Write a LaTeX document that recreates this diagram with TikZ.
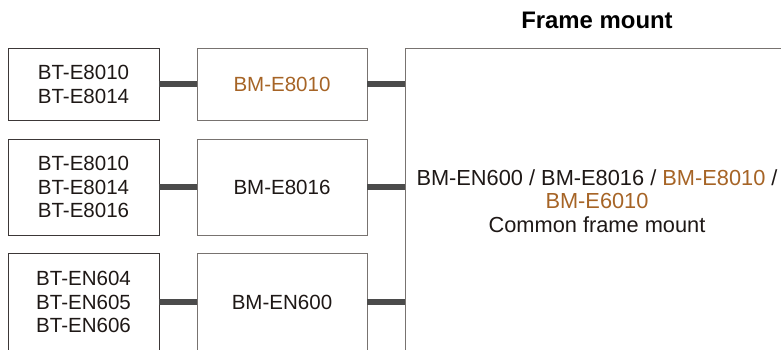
\documentclass[tikz,border=0pt]{standalone}
\usepackage{fontspec}
\setmainfont{Liberation Sans}
\usepackage{tikz}
\usetikzlibrary{positioning,calc}
\definecolor{inkblack}{RGB}{30,24,22}
\definecolor{bronze}{RGB}{166,100,38}
\definecolor{darkframe}{RGB}{60,55,55}
\definecolor{midframe}{RGB}{120,115,112}
\definecolor{barblack}{RGB}{75,75,75}

\begin{document}
\begin{tikzpicture}[x=0.025cm,y=-0.025cm,
  bat/.style={draw=darkframe,line width=0.6pt,minimum width=3.775cm,align=center,
              font=\fontsize{14.6}{17}\selectfont,text=inkblack,inner sep=0pt},
  mod/.style={draw=midframe,line width=0.6pt,minimum width=4.25cm,align=center,
              font=\fontsize{14.6}{17}\selectfont,text=inkblack,inner sep=0pt},
  bar/.style={draw=barblack,line width=4.8pt}]
  \useasboundingbox (0,0) rectangle (781,349);
  \clip (0,0) rectangle (781,349);
  \node[font=\fontsize{17}{20}\selectfont\bfseries,text=black] (title) at (597,20) {Frame mount};
  \node[draw=midframe,line width=0.6pt,minimum width=9.6cm,minimum height=7.65cm,
        align=center,font=\fontsize{15.5}{16.8}\selectfont,text=inkblack,inner sep=0pt] (fm) at (597,201)
       {BM-EN600 / BM-E8016 / \textcolor{bronze}{BM-E8010} /\\ \textcolor{bronze}{BM-E6010}\\ Common frame mount};
  \node[bat,minimum height=1.8cm] (b1) at (83.5,84) {BT-E8010\\BT-E8014};
  \node[mod,minimum height=1.8cm,text=bronze] (m1) at (282,84) {BM-E8010};
  \node[bat,minimum height=2.4cm] (b2) at (83.5,187) {BT-E8010\\BT-E8014\\BT-E8016};
  \node[mod,minimum height=2.4cm] (m2) at (282,187) {BM-E8016};
  \node[bat,minimum height=2.45cm] (b3) at (83.5,302) {BT-EN604\\BT-EN605\\BT-EN606};
  \node[mod,minimum height=2.45cm] (m3) at (282,302) {BM-EN600};
  \draw[bar] (b1) -- (m1); \draw[bar] (m1) -- (m1 -| fm.west);
  \draw[bar] (b2) -- (m2); \draw[bar] (m2) -- (m2 -| fm.west);
  \draw[bar] (b3) -- (m3); \draw[bar] (m3) -- (m3 -| fm.west);
\end{tikzpicture}
\end{document}
